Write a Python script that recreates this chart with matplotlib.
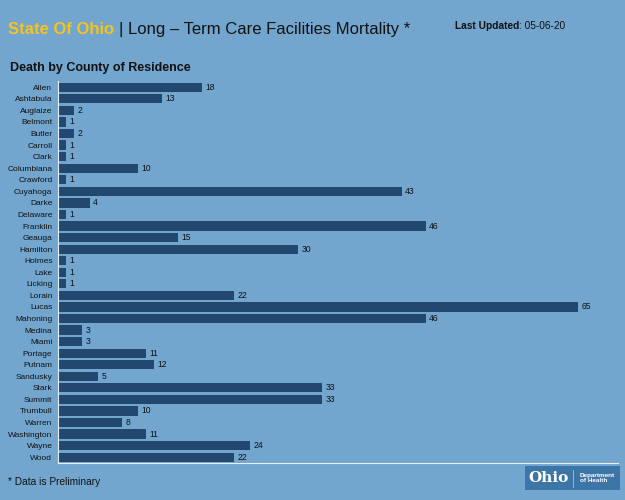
import matplotlib
matplotlib.use("Agg")
import matplotlib.pyplot as plt
from matplotlib.patches import Rectangle

counties = ["Allen", "Ashtabula", "Auglaize", "Belmont", "Butler", "Carroll", "Clark",
            "Columbiana", "Crawford", "Cuyahoga", "Darke", "Delaware", "Franklin", "Geauga",
            "Hamilton", "Holmes", "Lake", "Licking", "Lorain", "Lucas", "Mahoning", "Medina",
            "Miami", "Portage", "Putnam", "Sandusky", "Stark", "Summit", "Trumbull", "Warren",
            "Washington", "Wayne", "Wood"]
deaths = [18, 13, 2, 1, 2, 1, 1, 10, 1, 43, 4, 1, 46, 15, 30, 1, 1, 1, 22, 65, 46, 3, 3,
          11, 12, 5, 33, 33, 10, 8, 11, 24, 22]

bg = "#72a6ce"
bar_color = "#23486f"
plt.rcParams["font.family"] = ["Liberation Sans", "DejaVu Sans"]

fig = plt.figure(figsize=(6.25, 5), dpi=100, facecolor=bg)
ax = fig.add_axes([0.0928, 0.074, 0.896, 0.763], facecolor=bg)

y = list(range(len(counties)))
ax.barh(y, deaths, height=0.8, color=bar_color)
for yi, v in zip(y, deaths):
    ax.text(v + 0.4, yi, str(v), va="center", ha="left", fontsize=6.2, color="#111111")

ax.set_yticks(y)
ax.set_yticklabels(counties, fontsize=6, color="#111111")
ax.set_ylim(len(counties) - 0.5, -0.5)
ax.set_xlim(0, 70)
ax.set_xticks([])
ax.tick_params(axis="y", length=0, pad=4)
for s in ["top", "right"]:
    ax.spines[s].set_visible(False)
ax.spines["left"].set_color("#e8eef5")
ax.spines["bottom"].set_color("#e8eef5")
ax.spines["left"].set_linewidth(0.8)
ax.spines["bottom"].set_linewidth(0.8)

renderer = fig.canvas.get_renderer()


def text_after(first, s, **kw):
    # put a second text right after the end of the first one
    bb = first.get_window_extent(renderer)
    x1 = bb.x1 / fig.bbox.width
    return fig.text(x1, first.get_position()[1], s, va="center", **kw)


t1 = fig.text(0.013, 0.941, "State Of Ohio ", color="#f7c31a", fontsize=12, fontweight="bold", va="center")
text_after(t1, "| Long \u2013 Term Care Facilities Mortality *", color="#111111", fontsize=12)
t2 = fig.text(0.728, 0.948, "Last Updated", color="#111111", fontsize=7.3, fontweight="bold", va="center")
text_after(t2, ": 05-06-20", color="#111111", fontsize=7.3)
fig.text(0.016, 0.864, "Death by County of Residence", color="#111111", fontsize=9, fontweight="bold", va="center")
fig.text(0.013, 0.036, "* Data is Preliminary", color="#111111", fontsize=7.3, va="center")

# logo
fig.patches.append(Rectangle((0.84, 0.02), 0.152, 0.048, transform=fig.transFigure,
                             facecolor="#3d76a6", edgecolor="none"))
fig.text(0.846, 0.044, "Ohio", color="white", fontsize=11, fontweight="bold",
         family=["DejaVu Serif"], va="center")
fig.lines.append(plt.Line2D([0.917, 0.917], [0.027, 0.061], transform=fig.transFigure,
                            color="#a9c6e0", lw=0.6))
fig.text(0.928, 0.044, "Department\nof Health", color="white", fontsize=4.6, fontweight="bold",
         va="center", linespacing=1.2)

fig.savefig("out.png", dpi=100, facecolor=bg)
